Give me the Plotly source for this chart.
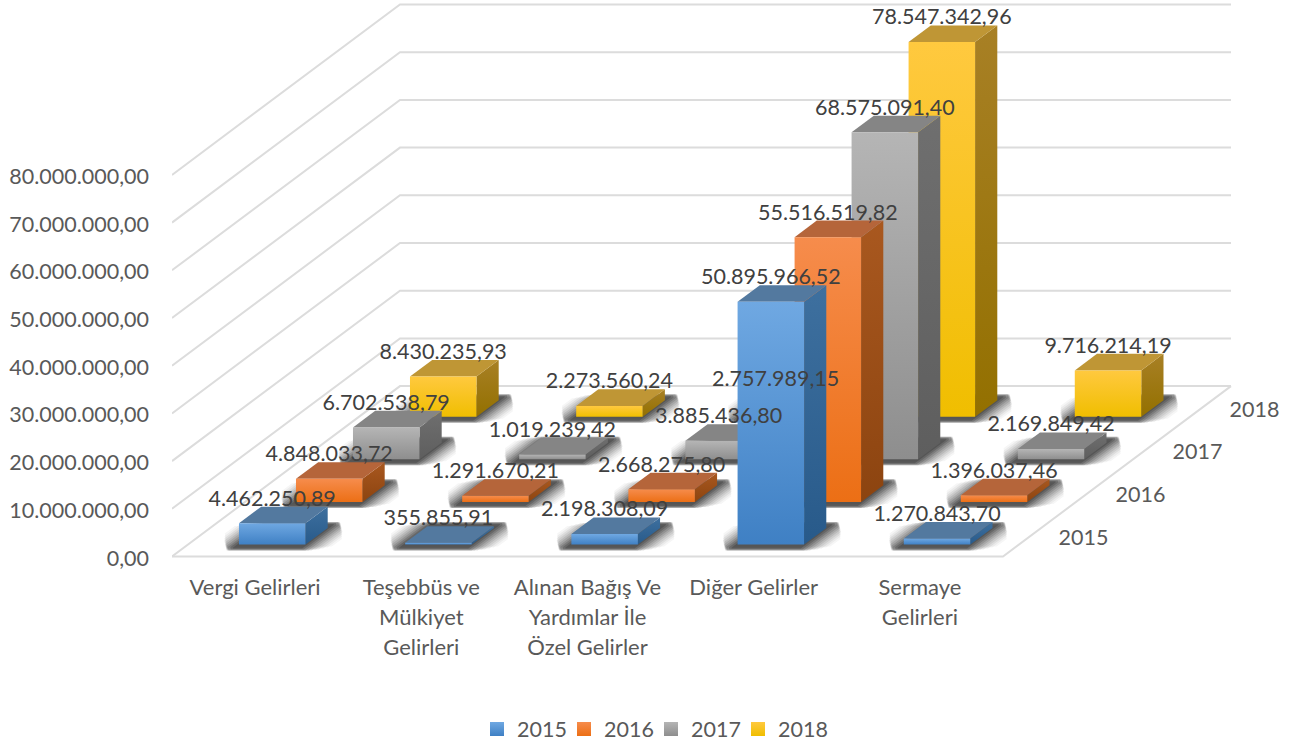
import plotly.graph_objects as go

categories = ["Vergi Gelirleri", "Teşebbüs ve<br>Mülkiyet<br>Gelirleri",
              "Alınan Bağış Ve<br>Yardımlar İle<br>Özel Gelirler", "Diğer Gelirler",
              "Sermaye<br>Gelirleri"]
series_names = ["2015", "2016", "2017", "2018"]
v2015 = [4462250.89, 355855.91, 2198308.09, 50895966.52, 1270843.70]
v2016 = [4848033.72, 1291670.21, 2668275.80, 55516519.82, 1396037.46]
v2017 = [6702538.79, 1019239.42, 3885436.80, 68575091.40, 2169849.42]
v2018 = [8430235.93, 2273560.24, 2757989.15, 78547342.96, 9716214.19]
series_values = [v2015, v2016, v2017, v2018]
label_2015 = ["4.462.250,89", "355.855,91", "2.198.308,09", "50.895.966,52", "1.270.843,70"]
label_2016 = ["4.848.033,72", "1.291.670,21", "2.668.275,80", "55.516.519,82", "1.396.037,46"]
label_2017 = ["6.702.538,79", "1.019.239,42", "3.885.436,80", "68.575.091,40", "2.169.849,42"]
label_2018 = ["8.430.235,93", "2.273.560,24", "2.757.989,15", "78.547.342,96", "9.716.214,19"]
series_labels = [label_2015, label_2016, label_2017, label_2018]
tick_values = [0, 10e6, 20e6, 30e6, 40e6, 50e6, 60e6, 70e6, 80e6]
tick_labels = ["0,00", "10.000.000,00", "20.000.000,00", "30.000.000,00", "40.000.000,00",
               "50.000.000,00", "60.000.000,00", "70.000.000,00", "80.000.000,00"]

# (front top, front bottom, top face, side top, side bottom)
palette = [
    ("#6FA8E2", "#3F80C4", "#53799F", "#3E709F", "#285A8A"),
    ("#F68C4C", "#EC6F15", "#B5653A", "#A9581F", "#8C4410"),
    ("#B5B5B5", "#8E8E8E", "#858585", "#6F6F6F", "#5E5E5E"),
    ("#FFC93F", "#F0BE00", "#BF9635", "#A88025", "#937000"),
]

# Oblique projection of the chart's box onto the plot plane
WIDTH, HEIGHT = 1307, 747
LEFT = 172
AXIS_FLOOR = 558     # pixel row of the axis zero
LIFT_PX = 1.5        # the drawn floor sits this far above the axis zero
PX_CAT = 166.2
PX_VAL = 4.77e-6
DEPTH_DX = 57.0
DEPTH_DY = 42.6
BAR_X0, BAR_W = 0.307, 0.40
BAR_D0, BAR_DD = 0.28, 0.39
N_D = len(series_names)
N_C = len(categories)
FONT = "Lato"
FS = 21.5


def proj(c, v, d):
    return c + d * DEPTH_DX / PX_CAT, v + (d * DEPTH_DY + LIFT_PX) / PX_VAL


def poly(points):
    xs, ys = [], []
    for c, v, d in points:
        x, y = proj(c, v, d)
        xs.append(x)
        ys.append(y)
    xs.append(xs[0])
    ys.append(ys[0])
    return xs, ys


def face(points, **style):
    xs, ys = poly(points)
    return go.Scatter(x=xs, y=ys, mode="lines", fill="toself", line=dict(width=0),
                      hoverinfo="skip", showlegend=False, cliponaxis=False, **style)


def vgrad(top, bottom):
    return dict(type="vertical", colorscale=[[0, bottom], [1, top]])


fig = go.Figure()

# Walls and floor
gx, gy = [], []
for t in tick_values:
    for p in [(0, t, 0), (0, t, N_D), (N_C, t, N_D)]:
        x, y = proj(*p)
        gx.append(x)
        gy.append(y)
    gx.append(None)
    gy.append(None)
for p in [(0, 0, 0), (N_C, 0, 0), (N_C, 0, N_D)]:
    x, y = proj(*p)
    gx.append(x)
    gy.append(y)
fig.add_trace(go.Scatter(x=gx, y=gy, mode="lines", line=dict(color="#DCDCDC", width=2),
                         hoverinfo="skip", showlegend=False, cliponaxis=False))

# Soft floor shadows: nested chamfered footprints, one trace per layer
SHADOW_LAYERS = [(29, 2.0, 0.04), (26, 3.0, 0.05), (23, 4.0, 0.07), (20, 5.0, 0.08), (17, 5.0, 0.10),
                 (14, 6.0, 0.12), (11, 6.0, 0.15), (8, 6.0, 0.18), (5, 5.0, 0.22), (2, 4.0, 0.25)]
for ex, ey, alpha in SHADOW_LAYERS:
    sx, sy = [], []
    ec = ex / PX_CAT
    ed = ey / DEPTH_DY
    cut_c = 0.7 * ec
    cut_d = 0.6 * ex / DEPTH_DX
    for d in range(N_D):
        for c in range(N_C):
            c0, c1 = c + BAR_X0 - ec, c + BAR_X0 + BAR_W + ec
            d0, d1 = d + BAR_D0 - ed, d + BAR_D0 + BAR_DD + ed
            xs, ys = poly([(c0 + cut_c, 0, d0), (c1, 0, d0), (c1, 0, d1 - cut_d),
                           (c1 - cut_c, 0, d1), (c0, 0, d1), (c0, 0, d0 + cut_d)])
            sx += xs + [None]
            sy += ys + [None]
    fig.add_trace(go.Scatter(x=sx, y=sy, mode="lines", fill="toself", line=dict(width=0),
                             fillcolor=f"rgba(30,30,30,{alpha})", hoverinfo="skip",
                             showlegend=False, cliponaxis=False))

# Bars, back to front
for d in reversed(range(N_D)):
    front_top, front_bot, top_col, side_top, side_bot = palette[d]
    for c, val in enumerate(series_values[d]):
        l, r = c + BAR_X0, c + BAR_X0 + BAR_W
        df, db = d + BAR_D0, d + BAR_D0 + BAR_DD
        fig.add_trace(face([(r, 0, df), (r, 0, db), (r, val, db), (r, val, df)],
                           fillgradient=vgrad(side_top, side_bot)))
        fig.add_trace(face([(l, val, df), (r, val, df), (r, val, db), (l, val, db)],
                           fillcolor=top_col))
        fig.add_trace(face([(l, 0, df), (r, 0, df), (r, val, df), (l, val, df)],
                           fillgradient=vgrad(front_top, front_bot)))

# Data labels
LABEL_GAP_PX = 23
for d in reversed(range(N_D)):
    lx, ly = [], []
    for c, val in enumerate(series_values[d]):
        x, y = proj(c + BAR_X0 + BAR_W / 2, val + LABEL_GAP_PX / PX_VAL, d + BAR_D0)
        lx.append(x)
        ly.append(y)
    fig.add_trace(go.Scatter(x=lx, y=ly, mode="text", text=series_labels[d],
                             textposition="middle center",
                             textfont=dict(family=FONT, size=FS, color="#404040"),
                             hoverinfo="skip", showlegend=False, cliponaxis=False))

# Depth axis labels
dx, dy = [], []
for d in range(N_D):
    x, y = proj(N_C + 27 / PX_CAT, 0, d + 0.5)
    dx.append(x)
    dy.append(y - 4 / PX_VAL)
fig.add_trace(go.Scatter(x=dx, y=dy, mode="text", text=series_names, textposition="middle right",
                         textfont=dict(family=FONT, size=FS, color="#595959"),
                         hoverinfo="skip", showlegend=False, cliponaxis=False))

# Legend
for name, colours in zip(series_names, palette):
    fig.add_trace(go.Scatter(x=[None], y=[None], mode="markers", name=name,
                             marker=dict(symbol="square", size=14, color=colours[0],
                                         gradient=dict(type="vertical", color=colours[1]))))
# An empty last entry keeps the legend box wide enough for the final label
fig.add_trace(go.Scatter(x=[None], y=[None], mode="markers", name=" ",
                         marker=dict(color="rgba(0,0,0,0)", size=1)))


def styled(label):
    return "<br>".join(f'<span style="font-size:22px">{part}</span>' for part in label.split("<br>"))


fig.update_layout(
    width=WIDTH, height=HEIGHT,
    margin=dict(l=LEFT, r=0, t=0, b=HEIGHT - AXIS_FLOOR, pad=0, autoexpand=False),
    paper_bgcolor="white", plot_bgcolor="white",
    font=dict(family=FONT, color="#595959", size=FS),
    xaxis=dict(range=[0, (WIDTH - LEFT) / PX_CAT], tickmode="array",
               tickvals=[i + 0.5 for i in range(N_C)], ticktext=[styled(c) for c in categories],
               tickfont=dict(family=FONT, size=23, color="#595959"), tickangle=0,
               showgrid=False, zeroline=False, showline=False, ticks="", ticklabelstandoff=13),
    yaxis=dict(range=[0, AXIS_FLOOR / PX_VAL], tickmode="array", tickvals=tick_values, ticktext=tick_labels,
               tickfont=dict(family=FONT, size=FS, color="#595959"),
               showgrid=False, zeroline=False, showline=False, ticks="", ticklabelstandoff=22),
    legend=dict(orientation="h", x=(477 - LEFT) / (WIDTH - LEFT), xanchor="left",
                y=(AXIS_FLOOR - 729) / AXIS_FLOOR, yanchor="middle", entrywidth=42, entrywidthmode="pixels",
                font=dict(family=FONT, size=FS, color="#595959"), bgcolor="rgba(0,0,0,0)"),
)
fig.write_html("out.html", config={"displayModeBar": False}, post_script="document.body.style.margin='0';")
